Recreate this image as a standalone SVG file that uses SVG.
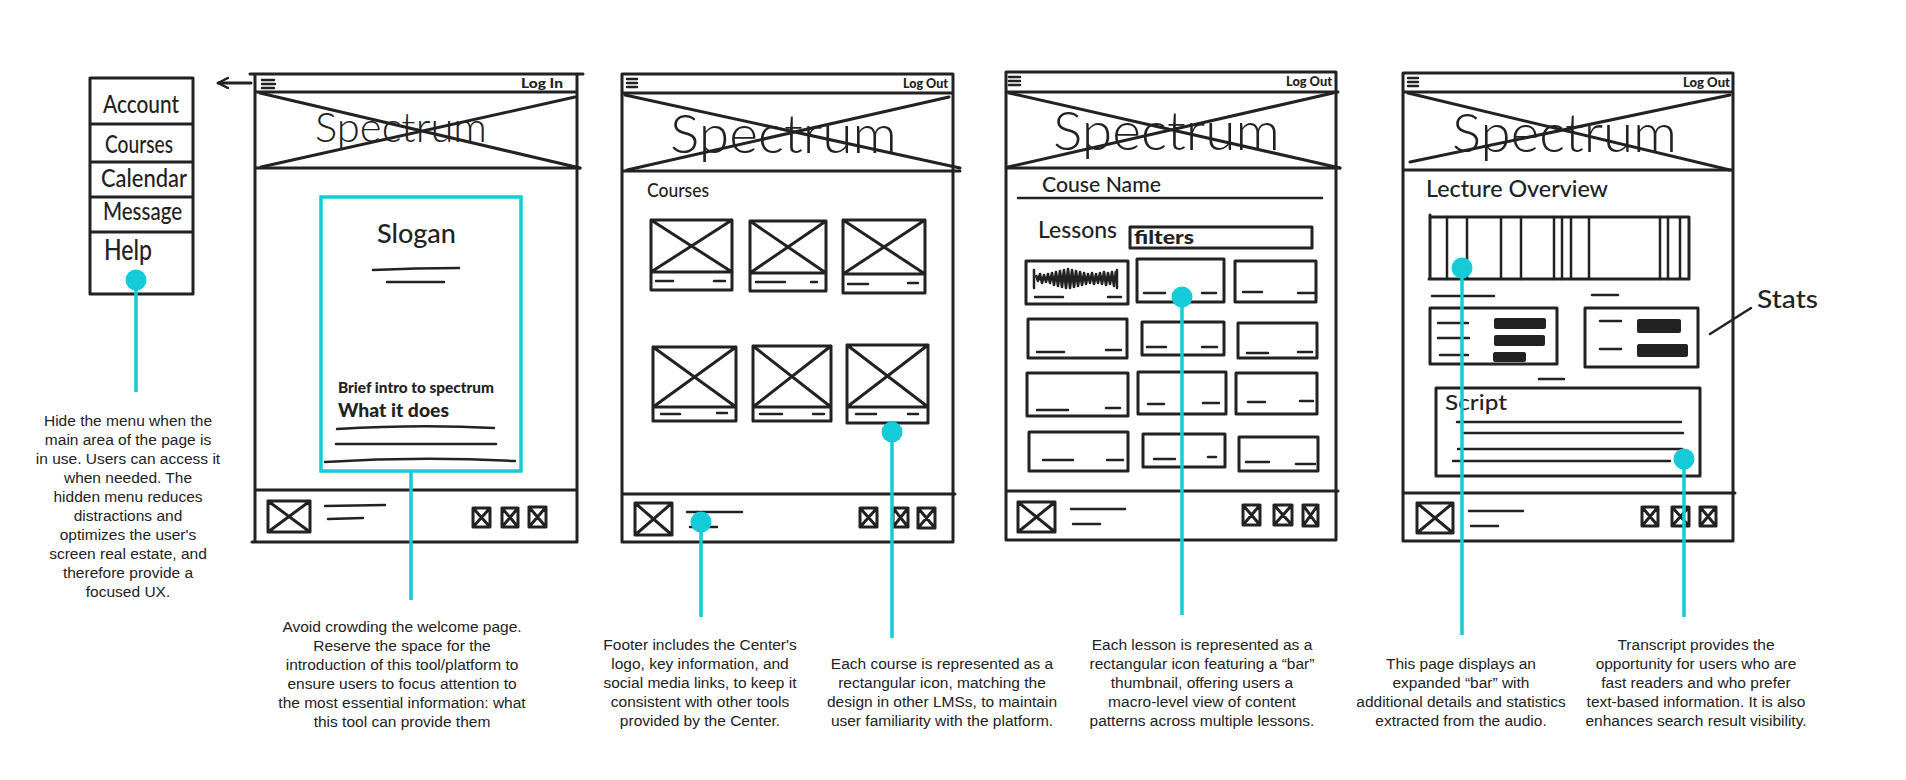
<svg xmlns="http://www.w3.org/2000/svg" width="1906" height="780" viewBox="0 0 1906 780">
  <defs>
    <style>
      .s { fill: none; stroke: #222; stroke-width: 3; stroke-linecap: round; stroke-linejoin: round; }
      .m { fill: none; stroke: #222; stroke-width: 2.5; stroke-linecap: round; }
      .fill { fill: #222; }
      .cy { fill: none; stroke: #16CBD8; stroke-width: 3.5; }
      .dot { fill: #16CBD8; }
      .note { font-family: "Liberation Sans", Arial, sans-serif; font-size: 15.5px; fill: #222; text-anchor: middle; }
      .hw { font-family: Lato, "Liberation Sans", sans-serif; fill: #222; font-weight: 500; }
      .logo { font-family: Lato, "Liberation Sans", sans-serif; fill: #222; font-weight: 300; }
      .bold { font-family: Lato, "Liberation Sans", sans-serif; fill: #222; font-weight: 900; }
    </style>
    <marker id="open-arrow" viewBox="0 0 12 12" refX="11" refY="6" markerWidth="12" markerHeight="12" markerUnits="userSpaceOnUse" orient="auto">
      <path d="M1 1 L11 6 L1 11" fill="none" stroke="#222" stroke-width="2.5" stroke-linecap="round" stroke-linejoin="round"/>
    </marker>
  </defs>

  <rect width="1906" height="780" fill="#fff"/>

  <!-- side menu -->
  <g id="menu">
    <path class="s" d="M90 78 H193 V294 H90 Z M90 124 H193 M90 162 H193 M90 197 H193 M90 232 H193"/>
    <text class="hw" x="103" y="113" font-size="25" textLength="76" lengthAdjust="spacingAndGlyphs">Account</text>
    <text class="hw" x="105" y="153" font-size="25" textLength="68" lengthAdjust="spacingAndGlyphs">Courses</text>
    <text class="hw" x="101" y="187" font-size="25" textLength="86" lengthAdjust="spacingAndGlyphs">Calendar</text>
    <text class="hw" x="103" y="220" font-size="25" textLength="79" lengthAdjust="spacingAndGlyphs">Message</text>
    <text class="hw" x="104" y="260" font-size="28" textLength="48" lengthAdjust="spacingAndGlyphs">Help</text>
  </g>

  <!-- welcome page -->
  <g id="page-welcome">
    <path class="s" d="M250 74 H583 M255 74 V542 M577 74 V542 M255 92 H577 M255 168 H580 M255 490 H577 M252 542 H577"/>
    <path class="s" d="M260 93 L580 168 M575 97 L261 167"/>
    <path class="m" d="M262 80 H274 M262 84 H275 M262 88 H274"/>
    <text class="bold" x="521" y="88" font-size="13" textLength="42" lengthAdjust="spacingAndGlyphs">Log In</text>
    <text class="logo" x="315" y="142" font-size="42" textLength="172" lengthAdjust="spacingAndGlyphs">Spectrum</text>
    <text class="hw" x="377" y="243" font-size="27" textLength="79" lengthAdjust="spacingAndGlyphs">Slogan</text>
    <path class="m" d="M373 270 Q416 268 459 268 M387 282 H444"/>
    <text class="bold" x="338" y="393" font-size="15" textLength="156" lengthAdjust="spacingAndGlyphs">Brief intro to spectrum</text>
    <text class="bold" x="338" y="417" font-size="19" textLength="111" lengthAdjust="spacingAndGlyphs">What it does</text>
    <path class="m" d="M337 429 Q420 424 494 428 M336 444 H496 M325 462 Q420 456 515 461"/>
    <path class="s" d="M268 501 H310 V532 H268 Z M268 501 L310 532 M310 501 L268 532"/>
    <path class="m" d="M325 506 L385 505 M328 519 L363 518"/>
    <path class="s" d="M473 508 H490 V527 H473 Z M473 508 L490 527 M490 508 L473 527 M502 508 H518 V527 H502 Z M502 508 L518 527 M518 508 L502 527 M529 507 H546 V527 H529 Z M529 507 L546 527 M546 507 L529 527"/>
  </g>

  <!-- courses page -->
  <g id="page-courses">
    <path class="s" d="M622 74 H953 M622 74 V542 M953 74 V542 M622 93 H953 M622 171 H960 M622 494 H955 M622 542 H953"/>
    <path class="s" d="M625 95 L960 168 M949 97 L627 170"/>
    <path class="m" d="M627 79 H637 M627 83 H637 M627 87 H637"/>
    <text class="bold" x="903" y="88" font-size="13" textLength="45" lengthAdjust="spacingAndGlyphs">Log Out</text>
    <text class="logo" x="670" y="153" font-size="54" textLength="227" lengthAdjust="spacingAndGlyphs">Spectrum</text>
    <text class="hw" x="647" y="197" font-size="20" textLength="62" lengthAdjust="spacingAndGlyphs">Courses</text>
    <!-- course tiles -->
    <path class="s" d="M651 220 H732 V290 H651 Z M651 272 H732 M651 220 L732 272 M732 220 L651 272"/>
    <path class="m" d="M656 281 H673 M714 281 H725"/>
    <path class="s" d="M750 221 H826 V291 H750 Z M750 273 H826 M750 221 L826 273 M826 221 L750 273"/>
    <path class="m" d="M756 282 H785 M811 282 H817"/>
    <path class="s" d="M843 220 H925 V293 H843 Z M843 274 H925 M843 220 L925 274 M925 220 L843 274"/>
    <path class="m" d="M848 284 H868 M908 283 H918"/>
    <path class="s" d="M653 347 H736 V421 H653 Z M653 407 H736 M653 347 L736 407 M736 347 L653 407"/>
    <path class="m" d="M661 414 H680 M717 413 H727"/>
    <path class="s" d="M753 346 H831 V421 H753 Z M753 407 H831 M753 346 L831 407 M831 346 L753 407"/>
    <path class="m" d="M760 414 H782 M813 414 H824"/>
    <path class="s" d="M847 345 H928 V423 H847 Z M847 407 H928 M847 345 L928 407 M928 345 L847 407"/>
    <path class="m" d="M856 414 H876 M908 414 H918"/>
    <!-- footer -->
    <path class="s" d="M635 503 H672 V535 H635 Z M635 503 L672 535 M672 503 L635 535"/>
    <path class="m" d="M687 512 H742 M690 527 H717"/>
    <path class="s" d="M860 508 H877 V527 H860 Z M860 508 L877 527 M877 508 L860 527 M893 508 H908 V527 H893 Z M893 508 L908 527 M908 508 L893 527 M918 508 H935 V528 H918 Z M918 508 L935 528 M935 508 L918 528"/>
  </g>

  <!-- lessons page -->
  <g id="page-lessons">
    <path class="s" d="M1006 72 H1336 M1006 72 V540 M1336 72 V540 M1006 92 H1338 M1006 168 H1340 M1006 491 H1338 M1006 540 H1336"/>
    <path class="s" d="M1009 93 L1340 168 M1333 93 L1008 167"/>
    <path class="m" d="M1009 77 H1020 M1009 81 H1020 M1009 85 H1020"/>
    <text class="bold" x="1286" y="86" font-size="13" textLength="46" lengthAdjust="spacingAndGlyphs">Log Out</text>
    <text class="logo" x="1053" y="150" font-size="54" textLength="227" lengthAdjust="spacingAndGlyphs">Spectrum</text>
    <text class="hw" x="1042" y="192" font-size="21" textLength="119" lengthAdjust="spacingAndGlyphs">Couse Name</text>
    <path class="m" d="M1018 198 H1322"/>
    <text class="hw" x="1038" y="238" font-size="23" textLength="79" lengthAdjust="spacingAndGlyphs">Lessons</text>
    <path class="s" d="M1130 227 H1312 V248 H1130 Z"/>
    <text class="bold" x="1134" y="244" font-size="18" textLength="60" lengthAdjust="spacingAndGlyphs">filters</text>
    <!-- lesson tiles -->
    <path class="s" d="M1026 261 H1128 V304 H1026 Z"/>
    <polyline fill="none" stroke="#222" stroke-width="2.6" stroke-linejoin="round" points="1036,275 1038,281 1040,274 1042,283 1044,275 1046,282 1048,274 1050,283 1052,273 1054,285 1056,272 1058,286 1060,271 1062,287 1064,270 1066,288 1068,269 1070,288 1072,270 1074,287 1076,271 1078,286 1080,272 1082,285 1084,273 1086,284 1088,274 1090,283 1092,273 1094,284 1096,274 1098,283 1100,273 1102,284 1104,272 1106,285 1108,273 1110,284 1112,272 1114,286 1116,271"/>
    <path class="m" d="M1034 270 V288 M1117 270 V288 M1035 297 H1063 M1108 297 H1121"/>
    <path class="s" d="M1137 259 H1224 V302 H1137 Z"/>
    <path class="m" d="M1144 293 H1165 M1202 293 H1216"/>
    <path class="s" d="M1235 261 H1316 V302 H1235 Z"/>
    <path class="m" d="M1243 292 H1262 M1298 293 H1315"/>
    <path class="s" d="M1028 319 H1127 V358 H1028 Z"/>
    <path class="m" d="M1037 352 H1064 M1106 350 H1121"/>
    <path class="s" d="M1142 322 H1224 V355 H1142 Z"/>
    <path class="m" d="M1147 347 H1166 M1202 347 H1217"/>
    <path class="s" d="M1238 323 H1317 V358 H1238 Z"/>
    <path class="m" d="M1247 353 H1268 M1298 352 H1312"/>
    <path class="s" d="M1027 373 H1128 V416 H1027 Z"/>
    <path class="m" d="M1037 410 H1068 M1106 408 H1120"/>
    <path class="s" d="M1138 372 H1226 V414 H1138 Z"/>
    <path class="m" d="M1148 404 H1164 M1203 403 H1219"/>
    <path class="s" d="M1236 373 H1317 V414 H1236 Z"/>
    <path class="m" d="M1248 402 H1265 M1300 401 H1313"/>
    <path class="s" d="M1029 432 H1128 V471 H1029 Z"/>
    <path class="m" d="M1043 460 H1073 M1107 460 H1123"/>
    <path class="s" d="M1143 434 H1225 V467 H1143 Z"/>
    <path class="m" d="M1154 459 H1175 M1208 457 H1216"/>
    <path class="s" d="M1239 437 H1318 V471 H1239 Z"/>
    <path class="m" d="M1246 462 H1269 M1296 464 H1315"/>
    <!-- footer -->
    <path class="s" d="M1018 502 H1055 V532 H1018 Z M1018 502 L1055 532 M1055 502 L1018 532"/>
    <path class="m" d="M1071 509 H1125 M1073 524 H1100"/>
    <path class="s" d="M1243 505 H1260 V525 H1243 Z M1243 505 L1260 525 M1260 505 L1243 525 M1274 505 H1292 V525 H1274 Z M1274 505 L1292 525 M1292 505 L1274 525 M1303 505 H1318 V526 H1303 Z M1303 505 L1318 526 M1318 505 L1303 526"/>
  </g>

  <!-- lecture overview page -->
  <g id="page-lecture">
    <path class="s" d="M1403 73 H1733 M1403 73 V541 M1733 73 V541 M1403 92 H1733 M1403 170 H1733 M1403 493 H1735 M1403 541 H1733"/>
    <path class="s" d="M1408 93 L1730 170 M1730 95 L1410 162"/>
    <path class="m" d="M1408 78 H1418 M1408 82 H1418 M1408 86 H1418"/>
    <text class="bold" x="1683" y="87" font-size="13" textLength="47" lengthAdjust="spacingAndGlyphs">Log Out</text>
    <text class="logo" x="1452" y="152" font-size="54" textLength="225" lengthAdjust="spacingAndGlyphs">Spectrum</text>
    <text class="hw" x="1426" y="197" font-size="23" textLength="182" lengthAdjust="spacingAndGlyphs">Lecture Overview</text>
    <!-- expanded bar -->
    <path class="s" d="M1430 215 V279 M1430 217 H1689 V279 H1429"/>
    <path class="m" d="M1447 217 V279 M1467 217 V279 M1501 217 V279 M1521 217 V279 M1554 217 V279 M1562 217 V279 M1571 217 V279 M1589 217 V279 M1660 217 V279 M1668 217 V279 M1680 217 V279"/>
    <path class="m" d="M1432 296 H1494 M1592 295 H1618"/>
    <!-- stats -->
    <path class="s" d="M1430 308 H1557 V364 H1430 Z"/>
    <path class="m" d="M1438 323 H1468 M1438 338 H1469 M1440 355 H1468"/>
    <rect class="fill" x="1494" y="318" width="52" height="11" rx="2"/>
    <rect class="fill" x="1494" y="335" width="51" height="11" rx="2"/>
    <rect class="fill" x="1493" y="352" width="33" height="10" rx="2"/>
    <path class="s" d="M1585 308 H1698 V367 H1585 Z"/>
    <path class="m" d="M1600 321 H1621 M1600 349 H1621"/>
    <rect class="fill" x="1637" y="319" width="44" height="14" rx="2"/>
    <rect class="fill" x="1637" y="344" width="51" height="13" rx="2"/>
    <path class="m" d="M1539 379 H1564"/>
    <text class="hw" x="1757" y="308" font-size="25" textLength="61" lengthAdjust="spacingAndGlyphs">Stats</text>
    <!-- script -->
    <path class="s" d="M1436 388 H1700 V476 H1436 Z"/>
    <text class="hw" x="1445" y="410" font-size="21" textLength="62" lengthAdjust="spacingAndGlyphs">Script</text>
    <path class="m" d="M1457 422 H1681 M1464 433 H1683 M1458 449 H1682 M1453 461 H1670"/>
    <!-- footer -->
    <path class="s" d="M1417 503 H1453 V533 H1417 Z M1417 503 L1453 533 M1453 503 L1417 533"/>
    <path class="m" d="M1469 511 H1523 M1471 526 H1498"/>
    <path class="s" d="M1642 507 H1658 V526 H1642 Z M1642 507 L1658 526 M1658 507 L1642 526 M1672 507 H1689 V526 H1672 Z M1672 507 L1689 526 M1689 507 L1672 526 M1700 507 H1716 V526 H1700 Z M1700 507 L1716 526 M1716 507 L1700 526"/>
  </g>

  <!-- connectors and call-outs -->
  <g id="connectors">
    <path class="s" d="M251 83 H218" marker-end="url(#open-arrow)"/>
    <path class="m" d="M1710 334 L1751 308"/>
    <rect class="cy" x="321" y="197" width="200" height="274"/>
    <path class="cy" d="M136 280 V392 M411 471 V600 M701 522 V617 M892 432 V638 M1182 297 V615 M1462 268 V635 M1684 459 V617"/>
    <circle class="dot" cx="136" cy="280" r="10.5"/>
    <circle class="dot" cx="701" cy="522" r="10.5"/>
    <circle class="dot" cx="892" cy="432" r="10.5"/>
    <circle class="dot" cx="1182" cy="297" r="10.5"/>
    <circle class="dot" cx="1462" cy="268" r="10.5"/>
    <circle class="dot" cx="1684" cy="459" r="10.5"/>
  </g>

  <!-- notes -->
  <g id="note-menu">
    <text class="note" font-size="15" x="128" y="426">Hide the menu when the</text>
    <text class="note" font-size="15" x="128" y="445">main area of the page is</text>
    <text class="note" font-size="15" x="128" y="464">in use. Users can access it</text>
    <text class="note" font-size="15" x="128" y="483">when needed. The</text>
    <text class="note" font-size="15" x="128" y="502">hidden menu reduces</text>
    <text class="note" font-size="15" x="128" y="521">distractions and</text>
    <text class="note" font-size="15" x="128" y="540">optimizes the user's</text>
    <text class="note" font-size="15" x="128" y="559">screen real estate, and</text>
    <text class="note" font-size="15" x="128" y="578">therefore provide a</text>
    <text class="note" font-size="15" x="128" y="597">focused UX.</text>
  </g>
  <g id="note-welcome">
    <text class="note" x="402" y="632">Avoid crowding the welcome page.</text>
    <text class="note" x="402" y="651">Reserve the space for the</text>
    <text class="note" x="402" y="670">introduction of this tool/platform to</text>
    <text class="note" x="402" y="689">ensure users to focus attention to</text>
    <text class="note" x="402" y="708">the most essential information: what</text>
    <text class="note" x="402" y="727">this tool can provide them</text>
  </g>
  <g id="note-footer">
    <text class="note" x="700" y="650">Footer includes the Center's</text>
    <text class="note" x="700" y="669">logo, key information, and</text>
    <text class="note" x="700" y="688">social media links, to keep it</text>
    <text class="note" x="700" y="707">consistent with other tools</text>
    <text class="note" x="700" y="726">provided by the Center.</text>
  </g>
  <g id="note-course">
    <text class="note" x="942" y="669">Each course is represented as a</text>
    <text class="note" x="942" y="688">rectangular icon, matching the</text>
    <text class="note" x="942" y="707">design in other LMSs, to maintain</text>
    <text class="note" x="942" y="726">user familiarity with the platform.</text>
  </g>
  <g id="note-lesson">
    <text class="note" x="1202" y="650">Each lesson is represented as a</text>
    <text class="note" x="1202" y="669">rectangular icon featuring a &#8220;bar&#8221;</text>
    <text class="note" x="1202" y="688">thumbnail, offering users a</text>
    <text class="note" x="1202" y="707">macro-level view of content</text>
    <text class="note" x="1202" y="726">patterns across multiple lessons.</text>
  </g>
  <g id="note-lecture">
    <text class="note" x="1461" y="669">This page displays an</text>
    <text class="note" x="1461" y="688">expanded &#8220;bar&#8221; with</text>
    <text class="note" x="1461" y="707">additional details and statistics</text>
    <text class="note" x="1461" y="726">extracted from the audio.</text>
  </g>
  <g id="note-script">
    <text class="note" x="1696" y="650">Transcript provides the</text>
    <text class="note" x="1696" y="669">opportunity for users who are</text>
    <text class="note" x="1696" y="688">fast readers and who prefer</text>
    <text class="note" x="1696" y="707">text-based information. It is also</text>
    <text class="note" x="1696" y="726">enhances search result visibility.</text>
  </g>
</svg>
